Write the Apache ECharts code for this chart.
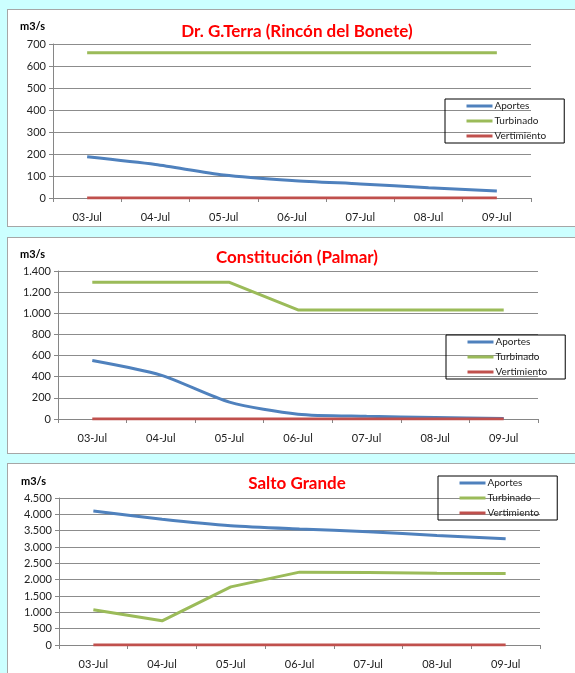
<!DOCTYPE html>
<html><head><meta charset="utf-8">
<script src="https://cdn.jsdelivr.net/npm/echarts@6/dist/echarts.min.js"></script>
<style>
html,body{margin:0;padding:0;background:#ccffff;width:575px;height:673px;overflow:hidden;}
.panel{position:absolute;left:7px;width:580px;background:#fff;border:1px solid #a6a6a6;box-sizing:border-box;}
</style></head><body>
<div id="c1" class="panel" style="top:9px;height:218px"></div>
<div id="c2" class="panel" style="top:237px;height:217px"></div>
<div id="c3" class="panel" style="top:463px;height:216px"></div>
<script>
const categories = ['03-Jul','04-Jul','05-Jul','06-Jul','07-Jul','08-Jul','09-Jul'];
const seriesNames = ['Aportes','Turbinado','Vertimiento'];
const colors = ['#4F81BD','#9BBB59','#C0504D'];

const terraTitle = 'Dr. G.Terra (Rincón del Bonete)';
const terraAportes = [187, 152, 105, 80, 64, 47, 32];
const terraTurbinado = [660, 660, 660, 660, 660, 660, 660];
const terraVertimiento = [0, 0, 0, 0, 0, 0, 0];

const palmarTitle = 'Constitución (Palmar)';
const palmarAportes = [553, 415, 160, 45, 25, 15, 5];
const palmarTurbinado = [1293, 1293, 1293, 1032, 1032, 1032, 1032];
const palmarVertimiento = [0, 0, 0, 0, 0, 0, 0];

const saltoTitle = 'Salto Grande';
const saltoAportes = [4100, 3850, 3650, 3550, 3470, 3350, 3250];
const saltoTurbinado = [1080, 740, 1780, 2230, 2220, 2200, 2190];
const saltoVertimiento = [0, 0, 0, 0, 0, 0, 0];

const unitLabel = 'm3/s';

function fmt(v){ return String(v).replace(/\B(?=(\d{3})+(?!\d))/g, '.'); }

function build(id, cfg){
  const chart = echarts.init(document.getElementById(id));
  const font = 'Lato, "Open Sans", sans-serif';
  chart.setOption({
    animation:false,
    textStyle:{fontFamily:font},
    grid:{left:cfg.grid[0], top:cfg.grid[1], width:cfg.grid[2], height:cfg.grid[3], containLabel:false},
    xAxis:{type:'category', data:categories, boundaryGap:true,
      axisLine:{lineStyle:{color:'#868686'}},
      axisTick:{show:true, length:4, lineStyle:{color:'#868686'}},
      axisLabel:{color:'#222', fontSize:11, margin:14, fontFamily:font}},
    yAxis:{type:'value', min:0, max:cfg.max, interval:cfg.interval,
      axisLine:{show:true, lineStyle:{color:'#868686'}},
      axisTick:{show:true, length:4, lineStyle:{color:'#868686'}},
      splitLine:{lineStyle:{color:'#8c8c8c'}},
      axisLabel:{color:'#222', fontSize:11, margin:7, formatter:fmt, fontFamily:font}},
    legend:{show:true, orient:'vertical', left:cfg.legend[0], top:cfg.legend[1],
      data:seriesNames, itemWidth:26, itemHeight:10, itemGap:5,
      padding:[2,18,2,20], borderColor:'#000', borderWidth:1,
      itemStyle:{opacity:0},
      lineStyle:{width:3},
      textStyle:{fontSize:10, color:'#222', padding:[0,0,0,-3], fontFamily:font}},
    graphic:[
      {type:'text', left:cfg.unit[0], top:cfg.unit[1], style:{text:unitLabel, font:'bold 11px '+font, fill:'#000'}},
      {type:'text', left:'center', top:cfg.titleTop, style:{text:cfg.title, font:'bold 17px '+font, fill:'#ff0000'}}
    ],
    series:seriesNames.map((n,i)=>({
      name:n, type:'line', data:cfg.data[i], symbol:'none',
      smooth: i===0 ? 0.25 : false,
      lineStyle:{width:3, color:colors[i]}, itemStyle:{color:colors[i]}
    }))
  });
}

build('c1', {title:terraTitle, grid:[45,34,478,154], max:700, interval:100,
  legend:[437,89], unit:[12,11], titleTop:13,
  data:[terraAportes, terraTurbinado, terraVertimiento]});
build('c2', {title:palmarTitle, grid:[50,33,480,148], max:1400, interval:200,
  legend:[438,97], unit:[12,11], titleTop:11,
  data:[palmarAportes, palmarTurbinado, palmarVertimiento]});
build('c3', {title:saltoTitle, grid:[51,34,481,147], max:4500, interval:500,
  legend:[430,12], unit:[13,12], titleTop:11,
  data:[saltoAportes, saltoTurbinado, saltoVertimiento]});
</script>
</body></html>
